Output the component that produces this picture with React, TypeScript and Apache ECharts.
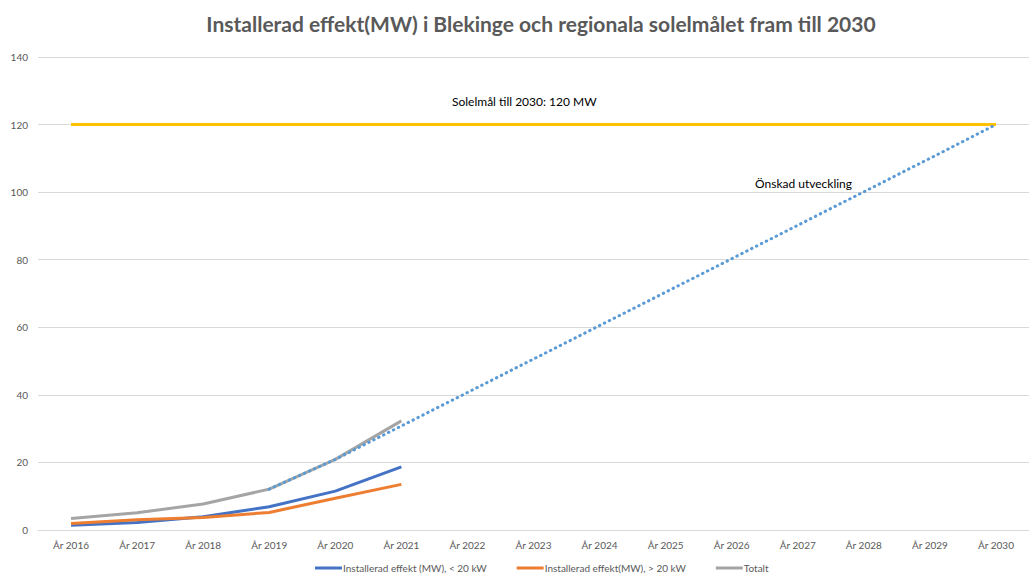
import React, { useEffect, useRef } from "react";
import * as echarts from "echarts";

const categories = ["År 2016", "År 2017", "År 2018", "År 2019", "År 2020", "År 2021", "År 2022", "År 2023", "År 2024", "År 2025", "År 2026", "År 2027", "År 2028", "År 2029", "År 2030"];
const under20: (number | null)[] = [1.4, 2.2, 3.9, 6.9, 11.5, 18.7];
const over20: (number | null)[] = [1.9, 3.0, 3.7, 5.2, 9.4, 13.5];
const totalt: (number | null)[] = [3.4, 5.1, 7.7, 12.1, 20.9, 32.3];
const onskad: (number | null)[] = [null, null, null, 12.1, 20.9, 30.8, 40.7, 50.6, 60.5, 70.4, 80.3, 90.2, 100.1, 110.0, 120];
const mal: number[] = [120, 120, 120, 120, 120, 120, 120, 120, 120, 120, 120, 120, 120, 120, 120];

const FONT = "Lato, 'Open Sans', sans-serif";

export default function App() {
  const ref = useRef<HTMLDivElement>(null);
  useEffect(() => {
    if (!ref.current) return;
    const chart = echarts.init(ref.current, undefined, { renderer: "svg" });
    chart.setOption({
      animation: false,
      backgroundColor: "#ffffff",
      textStyle: { fontFamily: FONT },
      title: {
        text: "Installerad effekt(MW) i Blekinge och regionala solelmålet fram till 2030",
        left: 536,
        textAlign: "center",
        top: 8,
        textStyle: { fontFamily: FONT, fontSize: 21, fontWeight: "bold", color: "#595959" },
      },
      grid: { left: 38, right: -9, top: 57, bottom: 44, containLabel: false },
      xAxis: {
        type: "category",
        data: categories,
        boundaryGap: true,
        axisLine: { show: true, lineStyle: { color: "#d9d9d9", width: 1 } },
        axisTick: { show: false },
        axisLabel: { color: "#595959", fontSize: 10, margin: 10, fontFamily: FONT },
        splitLine: { show: false },
      },
      yAxis: {
        type: "value",
        min: 0,
        max: 140,
        interval: 20,
        axisLine: { show: false },
        axisTick: { show: false },
        axisLabel: { color: "#595959", fontSize: 10, margin: 10, fontFamily: FONT },
        splitLine: { lineStyle: { color: "#d9d9d9", width: 1 } },
      },
      legend: {
        bottom: -4,
        left: 310,
        itemGap: 30,
        itemWidth: 27,
        itemHeight: 3,
        icon: "rect",
        textStyle: { color: "#595959", fontSize: 10, fontFamily: FONT, padding: [0, 0, 0, -4] },
        data: ["Installerad effekt (MW), < 20 kW", "Installerad effekt(MW), > 20 kW", "Totalt"],
      },
      graphic: [
        { type: "text", left: 452, top: 95, style: { text: "Solelmål till 2030: 120 MW", fill: "#000000", fontSize: 12, fontFamily: FONT } },
        { type: "text", left: 755, top: 177, style: { text: "Önskad utveckling", fill: "#000000", fontSize: 12, fontFamily: FONT } },
      ],
      series: [
        {
          name: "Solelmål",
          type: "line",
          data: mal,
          symbol: "none",
          lineStyle: { color: "#FFC000", width: 3 },
          itemStyle: { color: "#FFC000" },
          z: 2,
        },
        {
          name: "Installerad effekt (MW), < 20 kW",
          type: "line",
          data: under20,
          symbol: "none",
          lineStyle: { color: "#4472C4", width: 3 },
          itemStyle: { color: "#4472C4" },
          z: 3,
        },
        {
          name: "Installerad effekt(MW), > 20 kW",
          type: "line",
          data: over20,
          symbol: "none",
          lineStyle: { color: "#ED7D31", width: 3 },
          itemStyle: { color: "#ED7D31" },
          z: 4,
        },
        {
          name: "Totalt",
          type: "line",
          data: totalt,
          symbol: "none",
          lineStyle: { color: "#A5A5A5", width: 3 },
          itemStyle: { color: "#A5A5A5" },
          z: 5,
        },
        {
          name: "Önskad utveckling",
          type: "line",
          data: onskad,
          symbol: "none",
          lineStyle: { color: "#5B9BD5", width: 3, type: [0.5, 5], cap: "round" },
          itemStyle: { color: "#5B9BD5" },
          z: 6,
        },
      ],
    });
    return () => chart.dispose();
  }, []);
  return (
    <div
      ref={ref}
      style={{ position: "fixed", left: 0, top: 0, width: 1029, height: 574, background: "#fff" }}
    />
  );
}
